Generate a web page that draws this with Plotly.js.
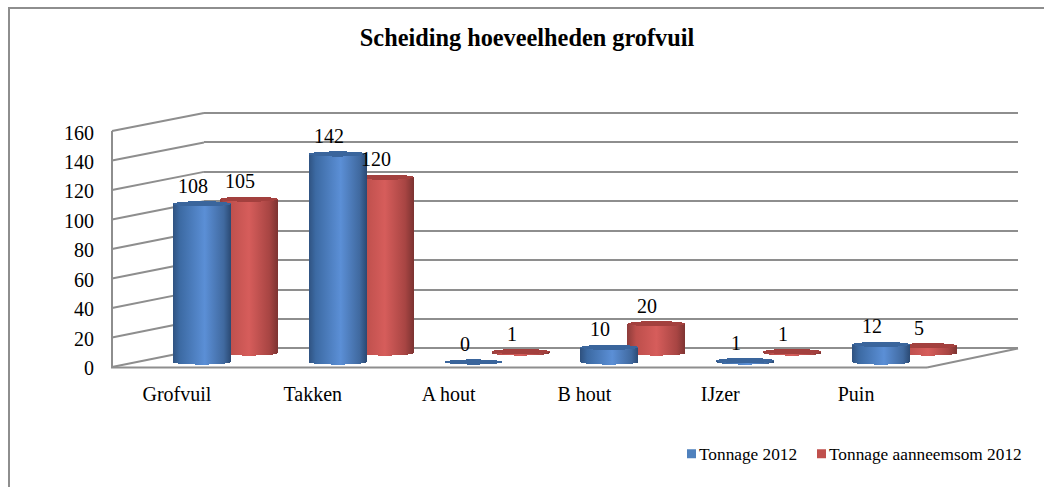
<!DOCTYPE html>
<html><head><meta charset="utf-8">
<script src="https://cdn.plot.ly/plotly-3.0.1.min.js"></script>
<style>html,body{margin:0;padding:0;background:#fff;overflow:hidden}</style>
</head><body><div id="chart" style="width:1044px;height:487px"></div>
<script>
const categories = ["Grofvuil","Takken","A hout","B hout","IJzer","Puin"];
const tonnage2012 = [108,142,0,10,1,12];
const aanneemsom2012 = [105,120,1,20,1,5];
const yTicks = [0,20,40,60,80,100,120,140,160];
const seriesNames = ["Tonnage 2012","Tonnage aanneemsom 2012"];
const titleText = "Scheiding hoeveelheden grofvuil";

const W=1044,H=487, FONT='"Liberation Serif","Times New Roman",serif';
const GRID='#8e8e8e';
const fx=p=>p/W, fy=p=>1-p/H;
const dom=(a,b)=>[fx(a),fx(b)];
const vdom=(top,bot)=>[fy(bot),fy(top)];
const xr=[-0.5,5.5], yr=[0,160], yrWide=[-2,162];
const barW=0.427, blueOff=-0.03, redOff=0.317;
const hidden={showgrid:false,zeroline:false,showline:false,showticklabels:false,ticks:''};

const traces=[
 {type:'scatter',x:categories,y:categories.map(()=>null),xaxis:'x',yaxis:'y',showlegend:false,hoverinfo:'skip'},
 {type:'bar',name:seriesNames[1],x:categories,y:aanneemsom2012,xaxis:'x2',yaxis:'y2',width:barW,offset:redOff,cliponaxis:false,
  marker:{color:'#c0504d',line:{width:0}},legend:'legend2'},
 {type:'scatter',x:categories,y:categories.map(()=>null),xaxis:'x3',yaxis:'y3',showlegend:false,hoverinfo:'skip'},
 {type:'bar',name:seriesNames[0],x:categories,y:tonnage2012,xaxis:'x4',yaxis:'y4',width:barW,offset:blueOff,cliponaxis:false,
  marker:{color:'#4f81bd',line:{width:0}},legend:'legend'}
];

// side wall and floor
const frontY=v=>367-v*1.475, backY=v=>348.5-v*1.472;
const lineShape=(x0,y0,x1,y1)=>({type:'line',xref:'paper',yref:'paper',x0:fx(x0),x1:fx(x1),y0:fy(y0),y1:fy(y1),line:{color:GRID,width:2},layer:'below'});
const shapes=yTicks.map(v=>lineShape(112,frontY(v),204,backY(v)));
shapes.push(lineShape(112,frontY(160),112,368));
shapes.push(lineShape(111,367.5,927,367.5));
shapes.push(lineShape(927,367.5,1018,348.5));
shapes.push(lineShape(9,8,9,487));
shapes.push(lineShape(8,8,1044,8));

const annotations=[];
const addLabels=(vals,xa,ya,xs)=>vals.forEach((v,i)=>annotations.push({
  x:categories[i],y:v,xref:xa,yref:ya,text:String(v),showarrow:false,xshift:xs,yshift:5,yanchor:'bottom',
  font:{family:FONT,size:20,color:'#000'}}));
addLabels(aanneemsom2012,'x2','y2',63);
addLabels(tonnage2012,'x4','y4',16);

const legendBase={orientation:'h',xanchor:'left',y:fy(454),yanchor:'middle',font:{family:FONT,size:17.3,color:'#000'},bgcolor:'rgba(0,0,0,0)'};
const layout={
 width:W,height:H,margin:{l:0,r:0,t:0,b:0},paper_bgcolor:'#fff',plot_bgcolor:'rgba(0,0,0,0)',
 showlegend:true,bargap:0,hovermode:false,
 font:{family:FONT,color:'#000'},
 title:{text:'<b>'+titleText+'</b>',x:527/W,xanchor:'center',y:1-37/H,yanchor:'middle',font:{family:FONT,size:24.3,color:'#000'}},
 xaxis:{domain:dom(204,1018),range:xr,type:'category',categoryarray:categories,...hidden,anchor:'y'},
 yaxis:{domain:vdom(113-2*1.472,348.5+2*1.472),range:yrWide,tickvals:yTicks,showgrid:true,gridcolor:GRID,gridwidth:2,zeroline:false,showline:false,showticklabels:false,ticks:'',anchor:'x'},
 xaxis2:{domain:dom(109,924),range:xr,type:'category',categoryarray:categories,...hidden,anchor:'y2'},
 yaxis2:{domain:vdom(353-234.4,353),range:yr,...hidden,anchor:'x2'},
 xaxis3:{domain:dom(109,924),range:xr,type:'category',categoryarray:categories,showgrid:false,zeroline:false,showline:false,
   ticks:'outside',ticklen:8,tickcolor:'rgba(0,0,0,0)',tickfont:{family:FONT,size:20,color:'#000'},anchor:'y3',tickangle:0},
 yaxis3:{domain:vdom(132.5,368),range:yr,tickvals:yTicks,showgrid:false,zeroline:false,showline:false,
   ticks:'outside',ticklen:11,tickcolor:'rgba(0,0,0,0)',tickfont:{family:FONT,size:20,color:'#000'},anchor:'free',position:fx(109),side:'left'},
 xaxis4:{domain:dom(109,924),range:xr,type:'category',categoryarray:categories,...hidden,anchor:'y4'},
 yaxis4:{domain:vdom(362-234.4,362),range:yr,...hidden,anchor:'x4'},
 legend:{...legendBase,x:fx(659)},
 legend2:{...legendBase,x:fx(789)},
 shapes,annotations
};

Plotly.newPlot('chart',traces,layout,{displayModeBar:false,staticPlot:true}).then(gd=>{
  const NS='http://www.w3.org/2000/svg';
  const svg=gd.querySelector('.main-svg');
  const defs=svg.querySelector('defs')||svg.insertBefore(document.createElementNS(NS,'defs'),svg.firstChild);
  const grad=(id,stops)=>{
    const g=document.createElementNS(NS,'linearGradient');g.setAttribute('id',id);
    g.setAttribute('x1','0');g.setAttribute('x2','1');g.setAttribute('y1','0');g.setAttribute('y2','0');
    stops.forEach(([o,c])=>{const s=document.createElementNS(NS,'stop');s.setAttribute('offset',o);s.setAttribute('stop-color',c);g.appendChild(s);});
    defs.appendChild(g);
  };
  grad('gBlue',[[0,'#2f5280'],[0.12,'#3c6aa3'],[0.55,'#5b8fd6'],[0.88,'#40699f'],[1,'#2b4a74']]);
  grad('gRed',[[0,'#8f3d3b'],[0.15,'#bd4f4c'],[0.5,'#d65d5b'],[0.85,'#a84543'],[1,'#7c3331']]);
  const fl=gd._fullLayout;
  const shape=(sub,xa,ya,vals,off,fill,cap)=>{
    const xA=fl[xa],yA=fl[ya];
    const paths=gd.querySelectorAll('.subplot.'+sub+' .bars .point path');
    vals.forEach((v,i)=>{
      const p=paths[i]; if(!p) return;
      const x0=xA.c2p(i+off), x1=xA.c2p(i+off+barW);
      const yb=yA.c2p(0), yt=yA.c2p(v);
      const rx=(x1-x0)/2, ry=2.6;
      p.setAttribute('d',`M${x0},${yb}A${rx},${ry} 0 0 0 ${x1},${yb}V${yt}A${rx},${ry} 0 0 0 ${x0},${yt}Z`);
      p.removeAttribute('clip-path'); p.style.clipPath='none';
      p.style.fill=`url(#${fill})`; p.style.opacity=1; p.style.strokeWidth=0;
      const e=document.createElementNS(NS,'ellipse');
      e.setAttribute('cx',x0+rx);e.setAttribute('cy',yt);e.setAttribute('rx',rx);e.setAttribute('ry',ry);
      e.setAttribute('fill',cap);
      p.parentNode.appendChild(e);
    });
  };
  shape('x2y2','xaxis2','yaxis2',aanneemsom2012,redOff,'gRed','#a3403e');
  shape('x4y4','xaxis4','yaxis4',tonnage2012,blueOff,'gBlue','#3a659c');
  // compact legend swatches
  gd.querySelectorAll('.legendpoints path').forEach(p=>{
    p.setAttribute('d','M4.5,4.5H-4.5V-4.5H4.5Z');p.setAttribute('transform','translate(32.5,0)');
  });
});
</script></body></html>
